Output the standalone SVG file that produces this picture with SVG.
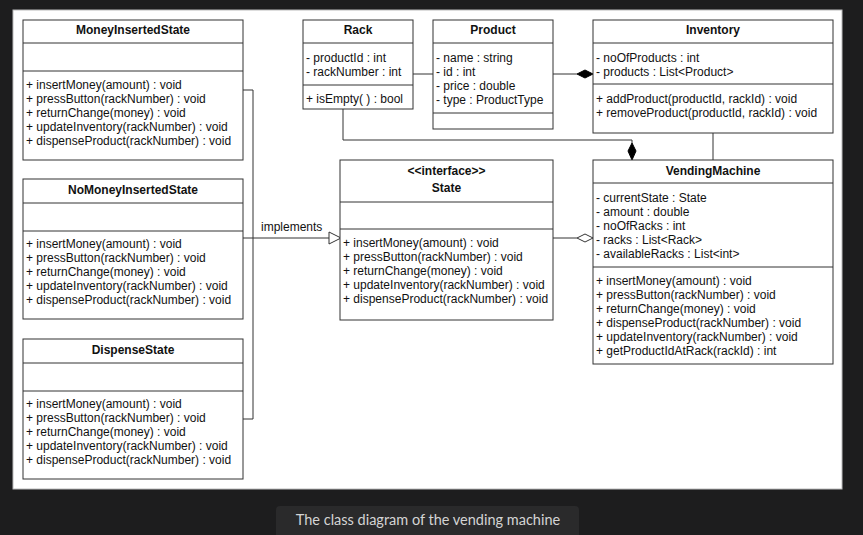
<svg xmlns="http://www.w3.org/2000/svg" width="863" height="535" viewBox="0 0 863 535">
<style>
.box{fill:#fff;stroke:#333;stroke-width:1}
.div{stroke:#333;stroke-width:1}
.t{font-family:"Liberation Sans",Arial,sans-serif;font-size:12px;fill:#111}
.b{font-family:"Liberation Sans",Arial,sans-serif;font-size:12px;font-weight:bold;fill:#111;text-anchor:middle}
.ln{fill:none;stroke:#333;stroke-width:1}
.cap{font-family:Lato,"Open Sans",sans-serif;font-size:14.5px;fill:#d4d4d4;text-anchor:middle}
</style>
<rect x="0" y="0" width="863" height="535" fill="#1d1d1e"/>
<rect x="13" y="10" width="829" height="479" fill="#fff" stroke="#bbb" stroke-width="1"/>
<g id="connectors">
<path class="ln" d="M243 90H253V419H243"/>
<path class="ln" d="M243 238H329"/>
<polygon points="329,232 341,238 329,244" fill="#fff" stroke="#333"/>
<text class="t" x="261" y="231">implements</text>
<path class="ln" d="M553 238H577"/>
<polygon points="577,238 585,234 593,238 585,242" fill="#fff" stroke="#333"/>
<path class="ln" d="M413 74H433"/>
<path class="ln" d="M553 74H577"/>
<polygon points="577,74 585,70 593,74 585,78" fill="#000" stroke="#000"/>
<path class="ln" d="M343 109V140H632V143"/>
<polygon points="632,143 636,151 632,160 628,151" fill="#000" stroke="#000"/>
<path class="ln" d="M713 133V160"/>
</g>
<g id="MoneyInsertedState">
<rect class="box" x="23" y="20" width="220" height="140"/>
<path class="div" d="M23 43H243M23 71H243"/>
<text class="b" x="133" y="34">MoneyInsertedState</text>
<text class="t" x="26" y="88.5">+ insertMoney(amount) : void</text>
<text class="t" x="26" y="102.5">+ pressButton(rackNumber) : void</text>
<text class="t" x="26" y="116.5">+ returnChange(money) : void</text>
<text class="t" x="26" y="130.5">+ updateInventory(rackNumber) : void</text>
<text class="t" x="26" y="144.5">+ dispenseProduct(rackNumber) : void</text>
</g>
<g id="NoMoneyInsertedState">
<rect class="box" x="23" y="179" width="220" height="140"/>
<path class="div" d="M23 203H243M23 231H243"/>
<text class="b" x="133" y="194">NoMoneyInsertedState</text>
<text class="t" x="26" y="247.5">+ insertMoney(amount) : void</text>
<text class="t" x="26" y="261.5">+ pressButton(rackNumber) : void</text>
<text class="t" x="26" y="275.5">+ returnChange(money) : void</text>
<text class="t" x="26" y="289.5">+ updateInventory(rackNumber) : void</text>
<text class="t" x="26" y="303.5">+ dispenseProduct(rackNumber) : void</text>
</g>
<g id="DispenseState">
<rect class="box" x="23" y="339" width="220" height="140"/>
<path class="div" d="M23 363H243M23 391H243"/>
<text class="b" x="133" y="354">DispenseState</text>
<text class="t" x="26" y="407.5">+ insertMoney(amount) : void</text>
<text class="t" x="26" y="421.5">+ pressButton(rackNumber) : void</text>
<text class="t" x="26" y="435.5">+ returnChange(money) : void</text>
<text class="t" x="26" y="449.5">+ updateInventory(rackNumber) : void</text>
<text class="t" x="26" y="463.5">+ dispenseProduct(rackNumber) : void</text>
</g>
<g id="Rack">
<rect class="box" x="303" y="20" width="110" height="89"/>
<path class="div" d="M303 43H413M303 85H413"/>
<text class="b" x="358" y="34">Rack</text>
<text class="t" x="306" y="61.5">- productId : int</text>
<text class="t" x="306" y="75.5">- rackNumber : int</text>
<text class="t" x="306" y="102.5">+ isEmpty( ) : bool</text>
</g>
<g id="Product">
<rect class="box" x="433" y="20" width="120" height="109"/>
<path class="div" d="M433 43H553M433 113H553"/>
<text class="b" x="493" y="34">Product</text>
<text class="t" x="436" y="61.5">- name : string</text>
<text class="t" x="436" y="75.5">- id : int</text>
<text class="t" x="436" y="89.5">- price : double</text>
<text class="t" x="436" y="103.5">- type : ProductType</text>
</g>
<g id="Inventory">
<rect class="box" x="593" y="20" width="240" height="113"/>
<path class="div" d="M593 43H833M593 84H833"/>
<text class="b" x="713" y="34">Inventory</text>
<text class="t" x="596" y="61.5">- noOfProducts : int</text>
<text class="t" x="596" y="75.5">- products : List&lt;Product&gt;</text>
<text class="t" x="596" y="102.5">+ addProduct(productId, rackId) : void</text>
<text class="t" x="596" y="116.5">+ removeProduct(productId, rackId) : void</text>
</g>
<g id="State">
<rect class="box" x="340" y="160" width="213" height="160"/>
<path class="div" d="M340 202H553M340 229H553"/>
<text class="b" x="446.5" y="175">&lt;&lt;interface&gt;&gt;</text>
<text class="b" x="446.5" y="191.5">State</text>
<text class="t" x="343" y="246.5">+ insertMoney(amount) : void</text>
<text class="t" x="343" y="260.5">+ pressButton(rackNumber) : void</text>
<text class="t" x="343" y="274.5">+ returnChange(money) : void</text>
<text class="t" x="343" y="288.5">+ updateInventory(rackNumber) : void</text>
<text class="t" x="343" y="302.5">+ dispenseProduct(rackNumber) : void</text>
</g>
<g id="VendingMachine">
<rect class="box" x="593" y="160" width="240" height="204"/>
<path class="div" d="M593 183H833M593 267H833"/>
<text class="b" x="713" y="174.5">VendingMachine</text>
<text class="t" x="596" y="201.5">- currentState : State</text>
<text class="t" x="596" y="215.5">- amount : double</text>
<text class="t" x="596" y="229.5">- noOfRacks : int</text>
<text class="t" x="596" y="243.5">- racks : List&lt;Rack&gt;</text>
<text class="t" x="596" y="257.5">- availableRacks : List&lt;int&gt;</text>
<text class="t" x="596" y="284.5">+ insertMoney(amount) : void</text>
<text class="t" x="596" y="298.5">+ pressButton(rackNumber) : void</text>
<text class="t" x="596" y="312.5">+ returnChange(money) : void</text>
<text class="t" x="596" y="326.5">+ dispenseProduct(rackNumber) : void</text>
<text class="t" x="596" y="340.5">+ updateInventory(rackNumber) : void</text>
<text class="t" x="596" y="354.5">+ getProductIdAtRack(rackId) : int</text>
</g>
<g id="caption">
<rect x="276" y="506" width="303" height="34" rx="4" fill="#2a2a2b"/>
<text class="cap" x="428" y="525">The class diagram of the vending machine</text>
</g>
</svg>
